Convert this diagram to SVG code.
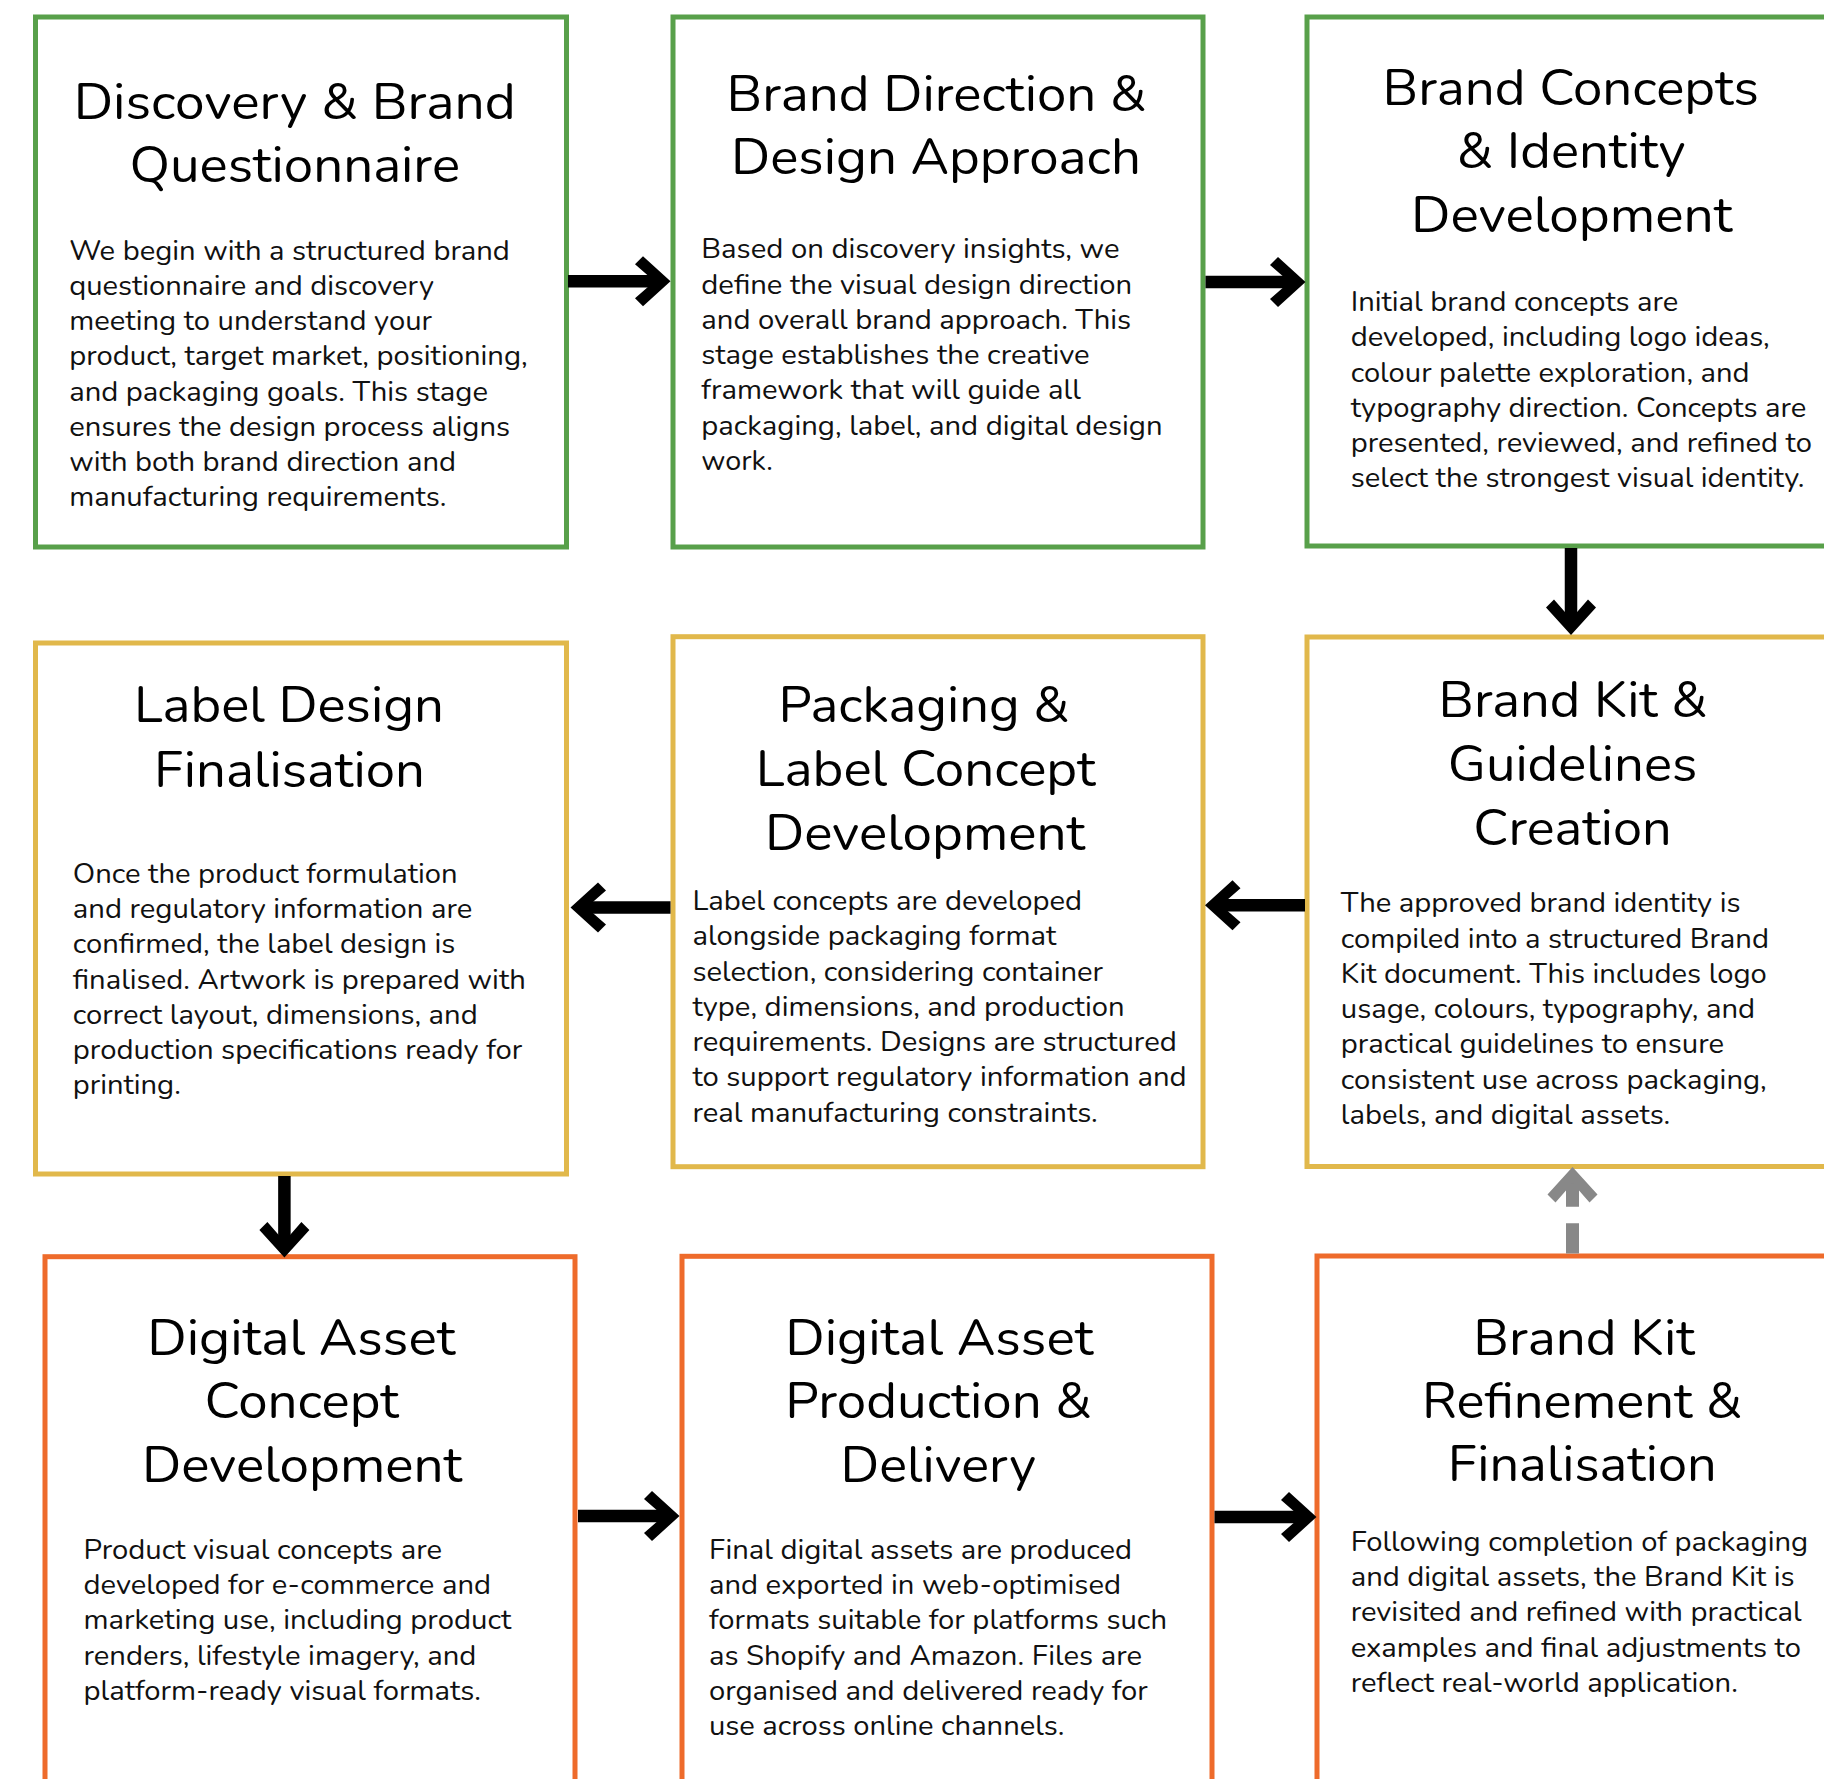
<svg xmlns="http://www.w3.org/2000/svg" xmlns:xlink="http://www.w3.org/1999/xlink" width="1824" height="1779" viewBox="0 0 1824 1779">
<style>
.box{fill:#ffffff;stroke-width:5}
.g{stroke:#58a04a}
.y{stroke:#e1b84b}
.o{stroke:#ee6b2b}
.t{font-family:Nunito,Lato,"Noto Sans",sans-serif;font-size:50.5px;fill:#000}
.b{font-family:Nunito,Lato,"Noto Sans",sans-serif;font-size:28.7px;fill:#111}
.shaft{stroke:#000;stroke-width:12.5;fill:none}
.head{fill:#000}
.dshaft{stroke:#888888;stroke-width:13;fill:none;stroke-dasharray:30.2 16.6 60}
.dhead{fill:#888888}
</style>
<defs>
<path id="ah" d="M0,0 L-27.5,-25 L-35.5,-17 L-16,0 L-35.5,17 L-27.5,25 Z"/>
</defs>
<rect x="0" y="0" width="1824" height="1779" fill="#ffffff"/>

<g id="node1">
<rect class="box g" x="35.5" y="17" width="531" height="530"/>
<text class="t" x="73.7" y="118.6" textLength="442" lengthAdjust="spacingAndGlyphs">Discovery &amp; Brand</text>
<text class="t" x="129.5" y="181.6" textLength="330.5" lengthAdjust="spacingAndGlyphs">Questionnaire</text>
<text class="b" x="69.2" y="259.5" textLength="440.6" lengthAdjust="spacingAndGlyphs">We begin with a structured brand</text>
<text class="b" x="69.2" y="294.8" textLength="364.7" lengthAdjust="spacingAndGlyphs">questionnaire and discovery</text>
<text class="b" x="69.2" y="330" textLength="362.8" lengthAdjust="spacingAndGlyphs">meeting to understand your</text>
<text class="b" x="69.2" y="365.3" textLength="458.5" lengthAdjust="spacingAndGlyphs">product, target market, positioning,</text>
<text class="b" x="69.2" y="400.5" textLength="418.8" lengthAdjust="spacingAndGlyphs">and packaging goals. This stage</text>
<text class="b" x="69.2" y="435.8" textLength="440.8" lengthAdjust="spacingAndGlyphs">ensures the design process aligns</text>
<text class="b" x="69.2" y="471" textLength="386.8" lengthAdjust="spacingAndGlyphs">with both brand direction and</text>
<text class="b" x="69.2" y="506.3" textLength="377.2" lengthAdjust="spacingAndGlyphs">manufacturing requirements.</text>
</g>

<g id="node2">
<rect class="box g" x="673" y="17" width="530" height="530"/>
<text class="t" x="726.5" y="110.8" textLength="420" lengthAdjust="spacingAndGlyphs">Brand Direction &amp;</text>
<text class="t" x="731" y="173.6" textLength="410" lengthAdjust="spacingAndGlyphs">Design Approach</text>
<text class="b" x="701.3" y="258.3" textLength="418.3" lengthAdjust="spacingAndGlyphs">Based on discovery insights, we</text>
<text class="b" x="701.3" y="293.6" textLength="430.8" lengthAdjust="spacingAndGlyphs">define the visual design direction</text>
<text class="b" x="701.3" y="328.8" textLength="429.9" lengthAdjust="spacingAndGlyphs">and overall brand approach. This</text>
<text class="b" x="701.3" y="364.1" textLength="388.4" lengthAdjust="spacingAndGlyphs">stage establishes the creative</text>
<text class="b" x="701.3" y="399.3" textLength="379.5" lengthAdjust="spacingAndGlyphs">framework that will guide all</text>
<text class="b" x="701.3" y="434.6" textLength="461.2" lengthAdjust="spacingAndGlyphs">packaging, label, and digital design</text>
<text class="b" x="701.3" y="469.8" textLength="71.5" lengthAdjust="spacingAndGlyphs">work.</text>
</g>

<g id="node3">
<rect class="box g" x="1307" y="17" width="530" height="529"/>
<text class="t" x="1382.5" y="105" textLength="376.3" lengthAdjust="spacingAndGlyphs">Brand Concepts</text>
<text class="t" x="1456.8" y="168" textLength="228.8" lengthAdjust="spacingAndGlyphs">&amp; Identity</text>
<text class="t" x="1411" y="232" textLength="321.4" lengthAdjust="spacingAndGlyphs">Development</text>
<text class="b" x="1350.7" y="311" textLength="327.6" lengthAdjust="spacingAndGlyphs">Initial brand concepts are</text>
<text class="b" x="1350.7" y="346.3" textLength="419.1" lengthAdjust="spacingAndGlyphs">developed, including logo ideas,</text>
<text class="b" x="1350.7" y="381.5" textLength="398.9" lengthAdjust="spacingAndGlyphs">colour palette exploration, and</text>
<text class="b" x="1350.7" y="416.8" textLength="455.7" lengthAdjust="spacingAndGlyphs">typography direction. Concepts are</text>
<text class="b" x="1350.7" y="452" textLength="461.2" lengthAdjust="spacingAndGlyphs">presented, reviewed, and refined to</text>
<text class="b" x="1350.7" y="487.3" textLength="453.8" lengthAdjust="spacingAndGlyphs">select the strongest visual identity.</text>
</g>

<g id="node4">
<rect class="box y" x="35.5" y="643" width="531" height="531"/>
<text class="t" x="134" y="722.3" textLength="310" lengthAdjust="spacingAndGlyphs">Label Design</text>
<text class="t" x="154" y="786.6" textLength="271" lengthAdjust="spacingAndGlyphs">Finalisation</text>
<text class="b" x="72.8" y="882.8" textLength="384.8" lengthAdjust="spacingAndGlyphs">Once the product formulation</text>
<text class="b" x="72.8" y="918.1" textLength="399.5" lengthAdjust="spacingAndGlyphs">and regulatory information are</text>
<text class="b" x="72.8" y="953.3" textLength="382.6" lengthAdjust="spacingAndGlyphs">confirmed, the label design is</text>
<text class="b" x="72.8" y="988.6" textLength="453.1" lengthAdjust="spacingAndGlyphs">finalised. Artwork is prepared with</text>
<text class="b" x="72.8" y="1023.8" textLength="404.9" lengthAdjust="spacingAndGlyphs">correct layout, dimensions, and</text>
<text class="b" x="72.8" y="1059.1" textLength="449.5" lengthAdjust="spacingAndGlyphs">production specifications ready for</text>
<text class="b" x="72.8" y="1094.3" textLength="108" lengthAdjust="spacingAndGlyphs">printing.</text>
</g>

<g id="node5">
<rect class="box y" x="673" y="636.7" width="530" height="530"/>
<text class="t" x="778.6" y="722.3" textLength="291" lengthAdjust="spacingAndGlyphs">Packaging &amp;</text>
<text class="t" x="755.8" y="785.8" textLength="339.7" lengthAdjust="spacingAndGlyphs">Label Concept</text>
<text class="t" x="765" y="849.6" textLength="320" lengthAdjust="spacingAndGlyphs">Development</text>
<text class="b" x="692.4" y="910.1" textLength="389.7" lengthAdjust="spacingAndGlyphs">Label concepts are developed</text>
<text class="b" x="692.4" y="945.4" textLength="363.9" lengthAdjust="spacingAndGlyphs">alongside packaging format</text>
<text class="b" x="692.4" y="980.6" textLength="410.7" lengthAdjust="spacingAndGlyphs">selection, considering container</text>
<text class="b" x="692.4" y="1015.9" textLength="432.2" lengthAdjust="spacingAndGlyphs">type, dimensions, and production</text>
<text class="b" x="692.4" y="1051.1" textLength="484.4" lengthAdjust="spacingAndGlyphs">requirements. Designs are structured</text>
<text class="b" x="692.4" y="1086.4" textLength="494.2" lengthAdjust="spacingAndGlyphs">to support regulatory information and</text>
<text class="b" x="692.4" y="1121.6" textLength="405.4" lengthAdjust="spacingAndGlyphs">real manufacturing constraints.</text>
</g>

<g id="node6">
<rect class="box y" x="1307" y="637" width="530" height="529.5"/>
<text class="t" x="1438.5" y="717" textLength="269" lengthAdjust="spacingAndGlyphs">Brand Kit &amp;</text>
<text class="t" x="1447.7" y="780.8" textLength="249.6" lengthAdjust="spacingAndGlyphs">Guidelines</text>
<text class="t" x="1473.3" y="844.6" textLength="198.4" lengthAdjust="spacingAndGlyphs">Creation</text>
<text class="b" x="1340.8" y="912.3" textLength="399.7" lengthAdjust="spacingAndGlyphs">The approved brand identity is</text>
<text class="b" x="1340.8" y="947.6" textLength="428.2" lengthAdjust="spacingAndGlyphs">compiled into a structured Brand</text>
<text class="b" x="1340.8" y="982.8" textLength="426" lengthAdjust="spacingAndGlyphs">Kit document. This includes logo</text>
<text class="b" x="1340.8" y="1018.1" textLength="414.3" lengthAdjust="spacingAndGlyphs">usage, colours, typography, and</text>
<text class="b" x="1340.8" y="1053.3" textLength="383.2" lengthAdjust="spacingAndGlyphs">practical guidelines to ensure</text>
<text class="b" x="1340.8" y="1088.6" textLength="426" lengthAdjust="spacingAndGlyphs">consistent use across packaging,</text>
<text class="b" x="1340.8" y="1123.8" textLength="329.4" lengthAdjust="spacingAndGlyphs">labels, and digital assets.</text>
</g>

<g id="node7">
<rect class="box o" x="45" y="1256.7" width="530" height="600"/>
<text class="t" x="147.3" y="1354.6" textLength="308" lengthAdjust="spacingAndGlyphs">Digital Asset</text>
<text class="t" x="204.5" y="1418" textLength="194.2" lengthAdjust="spacingAndGlyphs">Concept</text>
<text class="t" x="142" y="1482" textLength="320" lengthAdjust="spacingAndGlyphs">Development</text>
<text class="b" x="83.5" y="1558.8" textLength="358.5" lengthAdjust="spacingAndGlyphs">Product visual concepts are</text>
<text class="b" x="83.5" y="1594.1" textLength="407.5" lengthAdjust="spacingAndGlyphs">developed for e-commerce and</text>
<text class="b" x="83.5" y="1629.3" textLength="427.7" lengthAdjust="spacingAndGlyphs">marketing use, including product</text>
<text class="b" x="83.5" y="1664.6" textLength="392.8" lengthAdjust="spacingAndGlyphs">renders, lifestyle imagery, and</text>
<text class="b" x="83.5" y="1699.8" textLength="397.3" lengthAdjust="spacingAndGlyphs">platform-ready visual formats.</text>
</g>

<g id="node8">
<rect class="box o" x="682" y="1256.3" width="530" height="600"/>
<text class="t" x="785.3" y="1354.6" textLength="308" lengthAdjust="spacingAndGlyphs">Digital Asset</text>
<text class="t" x="785.3" y="1418" textLength="306.7" lengthAdjust="spacingAndGlyphs">Production &amp;</text>
<text class="t" x="840.6" y="1482" textLength="195.4" lengthAdjust="spacingAndGlyphs">Delivery</text>
<text class="b" x="708.9" y="1558.8" textLength="423.2" lengthAdjust="spacingAndGlyphs">Final digital assets are produced</text>
<text class="b" x="708.9" y="1594.1" textLength="412.1" lengthAdjust="spacingAndGlyphs">and exported in web-optimised</text>
<text class="b" x="708.9" y="1629.3" textLength="458.1" lengthAdjust="spacingAndGlyphs">formats suitable for platforms such</text>
<text class="b" x="708.9" y="1664.6" textLength="433.1" lengthAdjust="spacingAndGlyphs">as Shopify and Amazon. Files are</text>
<text class="b" x="708.9" y="1699.8" textLength="438.9" lengthAdjust="spacingAndGlyphs">organised and delivered ready for</text>
<text class="b" x="708.9" y="1735.1" textLength="355.4" lengthAdjust="spacingAndGlyphs">use across online channels.</text>
</g>

<g id="node9">
<rect class="box o" x="1317" y="1256" width="530" height="600"/>
<text class="t" x="1473.3" y="1354.6" textLength="221.4" lengthAdjust="spacingAndGlyphs">Brand Kit</text>
<text class="t" x="1422" y="1418" textLength="320.3" lengthAdjust="spacingAndGlyphs">Refinement &amp;</text>
<text class="t" x="1447.7" y="1481.4" textLength="269" lengthAdjust="spacingAndGlyphs">Finalisation</text>
<text class="b" x="1350.7" y="1550.9" textLength="457.5" lengthAdjust="spacingAndGlyphs">Following completion of packaging</text>
<text class="b" x="1350.7" y="1586.2" textLength="443.9" lengthAdjust="spacingAndGlyphs">and digital assets, the Brand Kit is</text>
<text class="b" x="1350.7" y="1621.4" textLength="450.9" lengthAdjust="spacingAndGlyphs">revisited and refined with practical</text>
<text class="b" x="1350.7" y="1656.7" textLength="450.2" lengthAdjust="spacingAndGlyphs">examples and final adjustments to</text>
<text class="b" x="1350.7" y="1691.9" textLength="387.2" lengthAdjust="spacingAndGlyphs">reflect real-world application.</text>
</g>

<g id="connectors">
<line class="shaft" x1="568" y1="281.3" x2="660" y2="281.3"/>
<use class="head" xlink:href="#ah" transform="translate(670.5,281.3)"/>
<line class="shaft" x1="1205.5" y1="282" x2="1295" y2="282"/>
<use class="head" xlink:href="#ah" transform="translate(1305.5,282)"/>
<line class="shaft" x1="1571" y1="548" x2="1571" y2="625"/>
<use class="head" xlink:href="#ah" transform="translate(1571,635) rotate(90)"/>
<line class="shaft" x1="1305" y1="905.2" x2="1215" y2="905.2"/>
<use class="head" xlink:href="#ah" transform="translate(1205,905.2) rotate(180)"/>
<line class="shaft" x1="670.5" y1="907.6" x2="580.5" y2="907.6"/>
<use class="head" xlink:href="#ah" transform="translate(570.5,907.6) rotate(180)"/>
<line class="shaft" x1="284.4" y1="1176" x2="284.4" y2="1247.5"/>
<use class="head" xlink:href="#ah" transform="translate(284.4,1257.5) rotate(90)"/>
<line class="shaft" x1="578" y1="1516" x2="669.5" y2="1516"/>
<use class="head" xlink:href="#ah" transform="translate(679.5,1516)"/>
<line class="shaft" x1="1214.5" y1="1517" x2="1306.5" y2="1517"/>
<use class="head" xlink:href="#ah" transform="translate(1316.5,1517)"/>
<line class="dshaft" x1="1572.5" y1="1253.5" x2="1572.5" y2="1176.5"/>
<use class="dhead" xlink:href="#ah" transform="translate(1572.5,1167) rotate(-90)"/>
</g>
</svg>
